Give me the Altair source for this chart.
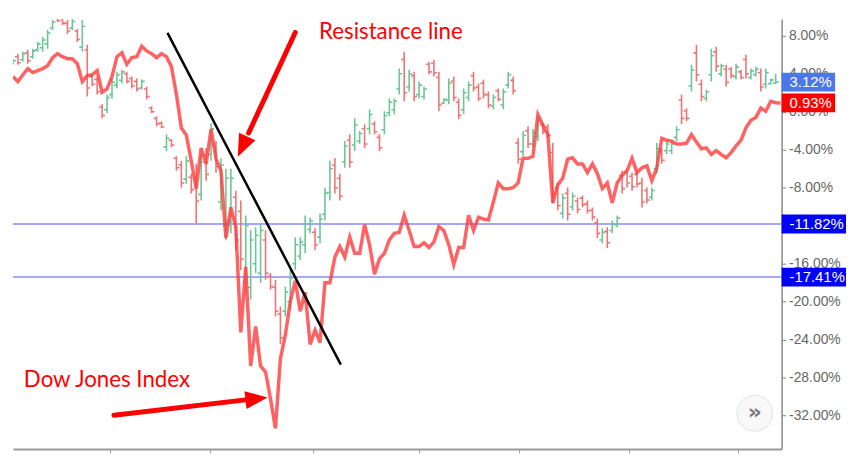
import altair as alt
import pandas as pd

# ---------------- data (percent change) ----------------
bar_high = [
    5.58, 6.10, 6.31, 6.52, 6.62, 7.35, 7.88, 8.61, 9.65, 10.28,
    10.07, 9.65, 9.75, 8.71, 9.65, 7.04, 3.91, 3.70, 0.78, 1.82,
    3.49, 4.22, 4.43, 4.22, 3.70, 3.49, 3.39, 2.66, 0.57, -0.48,
    -1.00, -2.36, -2.88, -4.65, -5.17, -4.65, -6.53, -5.49, -4.44, -3.82,
    -1.21, -3.09, -4.86, -6.01, -6.01, -8.31, -9.35, -10.92, -12.48, -12.17,
    -11.75, -12.48, -16.97, -17.70, -20.52, -18.43, -16.66, -13.21, -13.21, -10.92,
    -11.13, -12.27, -10.71, -7.99, -5.17, -4.86, -6.53, -3.09, -2.36, -0.68,
    -2.04, -1.31, 0.26, -1.00, -2.36, 0.05, 1.40, 1.40, 4.54, 6.31,
    4.43, 4.22, 3.18, 2.66, 5.27, 5.48, 4.22, 1.40, 3.49, 3.70,
    1.40, 2.45, 3.18, 4.22, 2.97, 3.39, 2.13, 1.82, 2.45, 2.45,
    4.22, 3.70, -2.77, -2.04, -1.52, -1.83, -0.48, -1.21, -1.31, -3.30,
    -7.47, -8.62, -7.99, -8.51, -9.04, -8.83, -9.35, -10.08, -11.23, -12.27,
    -12.17, -11.44, -10.92, -6.22, -6.01, -6.43, -6.22, -6.95, -7.99, -7.99,
    -3.30, -3.82, -3.09, -3.09, -1.52, 1.82, 0.36, 4.95, 7.04, 3.39,
    2.34, 6.62, 6.83, 5.06, 4.95, 4.74, 5.06, 4.43, 5.99, 4.54,
    4.74, 4.54, 4.54, 3.49, 4.01,
]
bar_low = [
    4.95, 4.95, 5.27, 5.06, 5.58, 6.31, 6.31, 6.62, 8.61, 9.44,
    9.13, 8.19, 8.61, 7.35, 6.31, 1.61, 2.66, 1.82, -0.68, -0.16,
    1.40, 2.45, 2.97, 2.97, 2.45, 2.13, 2.34, 1.30, -0.16, -1.52,
    -1.73, -4.13, -3.71, -6.22, -7.99, -7.57, -8.62, -11.75, -9.35, -7.26,
    -5.17, -6.43, -10.39, -13.53, -12.80, -14.57, -16.66, -19.06, -19.79, -16.97,
    -18.02, -17.70, -18.75, -21.56, -24.49, -21.56, -20.83, -16.66, -15.61, -14.88,
    -12.80, -14.57, -13.84, -11.44, -9.35, -8.62, -9.35, -5.90, -5.90, -4.13,
    -3.40, -3.82, -2.36, -2.36, -4.13, -2.36, -0.48, -0.27, 1.82, 1.09,
    2.13, 1.09, 1.40, 1.30, 3.91, 3.70, 0.05, 0.78, 0.78, 1.09,
    -0.79, -0.27, 1.09, 2.13, 1.09, 1.40, 0.36, 0.26, 1.09, 0.26,
    2.45, 1.82, -5.49, -4.65, -3.82, -3.82, -3.09, -2.36, -2.77, -9.66,
    -10.39, -11.23, -11.44, -10.39, -10.71, -10.08, -10.71, -11.44, -13.32, -13.84,
    -14.36, -12.80, -12.17, -8.62, -7.99, -8.31, -7.99, -10.08, -9.66, -9.35,
    -6.53, -5.49, -4.44, -4.44, -3.09, -1.31, -1.00, 2.13, 3.18, 1.09,
    1.09, 3.18, 4.22, 3.70, 2.66, 3.49, 3.39, 3.39, 3.49, 3.39,
    3.70, 2.13, 2.45, 2.87, 2.97,
]
bar_open = [
    5.16, 5.79, 5.48, 6.20, 5.79, 6.52, 6.73, 7.14, 8.81, 9.90,
    9.80, 9.30, 8.80, 8.50, 6.80, 6.50, 3.70, 3.40, 0.50, 0.20,
    1.80, 2.80, 3.30, 4.00, 3.50, 3.20, 2.50, 2.40, 0.40, -0.70,
    -1.20, -3.70, -3.00, -4.90, -5.60, -7.10, -6.90, -7.00, -8.70, -4.50,
    -4.50, -3.60, -9.50, -12.00, -11.50, -9.00, -10.50, -18.00, -18.50, -16.00,
    -17.00, -13.50, -17.30, -18.50, -21.30, -21.00, -20.00, -16.00, -15.20, -14.00,
    -12.40, -12.70, -13.20, -10.80, -8.50, -5.60, -7.00, -5.30, -3.00, -3.50,
    -3.10, -1.80, -1.80, -1.30, -2.70, -1.90, -0.10, 0.20, 2.40, 5.50,
    2.60, 3.80, 1.80, 1.60, 5.00, 5.10, 3.60, 0.90, 1.20, 3.20,
    1.00, 0.20, 1.50, 3.80, 2.60, 3.00, 1.80, 0.60, 2.20, 0.70,
    2.80, 3.30, -3.30, -4.20, -2.00, -3.40, -2.60, -1.40, -1.60, -4.30,
    -8.00, -10.70, -8.60, -10.00, -9.40, -9.10, -9.70, -10.40, -11.70, -13.50,
    -12.60, -12.50, -11.90, -6.70, -6.40, -6.80, -6.60, -7.50, -8.30, -9.00,
    -6.00, -4.20, -4.10, -4.10, -2.70, 1.20, 0.10, 2.70, 6.20, 2.90,
    1.40, 3.90, 6.30, 4.00, 4.50, 4.50, 3.70, 4.20, 5.50, 3.60,
    3.90, 4.10, 2.90, 2.95, 3.00,
]
bar_close = [
    5.37, 5.16, 6.10, 5.37, 6.41, 7.14, 7.56, 8.29, 9.44, 9.55,
    9.30, 8.50, 9.50, 7.60, 9.00, 2.50, 2.90, 2.10, -0.40, 1.50,
    3.10, 3.90, 4.20, 3.20, 2.70, 2.40, 3.20, 1.60, 0.00, -1.30,
    -1.60, -2.80, -3.50, -5.90, -7.50, -5.20, -8.20, -9.40, -5.30, -6.60,
    -1.80, -5.80, -5.60, -7.00, -7.00, -13.50, -15.50, -12.00, -13.50, -13.00,
    -12.50, -17.00, -18.40, -21.00, -23.80, -19.00, -17.50, -14.00, -13.70, -11.80,
    -11.50, -14.00, -11.30, -8.60, -6.00, -8.00, -8.90, -3.60, -5.30, -1.40,
    -2.30, -3.40, -0.30, -2.10, -3.80, -0.40, 1.00, 1.10, 4.00, 2.00,
    4.00, 1.60, 2.80, 2.40, 4.20, 4.10, 0.70, 1.30, 3.00, 1.50,
    -0.40, 2.00, 2.80, 2.50, 1.40, 1.80, 0.70, 1.50, 1.30, 2.10,
    3.90, 2.20, -5.00, -2.50, -3.40, -2.20, -0.90, -2.10, -2.50, -8.70,
    -9.90, -9.10, -10.80, -8.90, -10.30, -9.80, -10.40, -11.10, -12.80, -12.70,
    -13.80, -11.80, -11.20, -8.10, -7.50, -7.90, -7.60, -9.50, -9.30, -8.30,
    -3.90, -5.10, -3.40, -3.40, -1.90, -0.70, -0.70, 4.40, 3.90, 1.60,
    2.10, 5.90, 4.80, 4.80, 3.10, 3.80, 4.70, 3.60, 4.00, 4.30,
    4.50, 2.60, 4.10, 3.35, 3.12,
]
dow_pct = [
    3.71, 3.18, 3.90, 4.54, 4.12, 4.33, 4.54, 4.85, 5.69, 6.11,
    5.79, 5.58, 5.58, 5.06, 3.18, 3.81, 3.91, 4.33, 2.04, 2.40,
    3.71, 5.80, 6.20, 5.00, 5.70, 5.80, 6.90, 6.40, 6.11, 5.69,
    6.11, 5.79, 4.75, 1.83, -1.72, -2.45, -5.17, -8.10, -3.81, -5.50,
    -1.83, -4.96, -6.21, -13.30, -10.07, -12.16, -23.23, -16.34, -26.77, -22.60,
    -26.77, -27.40, -30.22, -33.35, -26.00, -23.50, -20.00, -17.80, -21.00, -19.00,
    -24.50, -23.00, -24.30, -18.00, -18.00, -15.30, -14.20, -15.30, -13.20, -14.90,
    -14.90, -11.90, -14.00, -17.10, -15.50, -14.90, -13.50, -12.80, -12.70, -10.90,
    -12.50, -14.20, -14.20, -13.80, -14.30, -13.70, -12.10, -12.50, -14.00, -16.10,
    -14.30, -14.30, -10.90, -12.50, -11.10, -11.30, -11.40, -9.50, -7.50, -8.10,
    -8.10, -8.00, -7.50, -4.90, -4.90, -4.70, -0.30, -1.40, -2.40, -9.60,
    -7.70, -7.00, -5.00, -4.85, -5.50, -5.50, -6.40, -5.50, -6.50, -8.10,
    -7.50, -9.60, -7.50, -6.70, -6.20, -4.90, -6.40, -5.90, -5.70, -7.25,
    -5.90, -2.80, -3.00, -3.10, -3.40, -3.40, -3.30, -2.40, -3.20, -3.90,
    -3.80, -4.50, -4.10, -4.50, -4.85, -4.30, -3.60, -3.00, -1.70, -0.90,
    -0.60, 0.40, 0.05, 1.10, 0.95, 0.93,
]
level_values = [-11.82, -17.41]
level_labels = ["-11.82%", "-17.41%"]
last_values = [3.12, 0.93]
last_labels = ["3.12%", "0.93%"]
last_colors = ["#4a78e6", "#ff0000"]
month_ticks = [19.6, 39.8, 60.6, 82.0, 102.2, 124.4, 146.4]
y_ticks = [8, 4, 0, -4, -8, -12, -16, -20, -24, -28, -32]

# annotation geometry (in data units: day index, percent)
resist_i = [31.2, 66.2]
resist_v = [8.30, -26.63]
shaft_arrow = [1, 1, 2, 2]
shaft_i = [57.0, 47.6, 20.4, 47.8]
shaft_v = [8.35, -2.23, -31.95, -30.28]
head_i = [45.4, 51.4]
head_v = [-4.73, -30.08]
head_angle = [205, 83]
note_text = ["Resistance line", "Dow Jones Index"]
note_i = [61.8, 2.2]
note_v = [7.68, -28.94]

GREEN = "#6cc596"
RED = "#f07474"
LINE_RED = "#ff3b3b"

# ---------------- scales / axes ----------------
xs = alt.Scale(domain=[0, 155.2], nice=False, zero=False)
ys = alt.Scale(domain=[-35.5, 9.76], nice=False, zero=False)
x_axis = alt.Axis(orient="bottom", values=month_ticks, labels=False, ticks=True,
                  tickSize=4, tickColor="#9a9a9a", domainColor="#9a9a9a",
                  domainWidth=2, grid=False, title=None)
y_axis = alt.Axis(orient="right", values=y_ticks,
                  labelExpr="(datum.value < 0 ? '-' : '') + format(abs(datum.value), '.2f') + '%'",
                  labelFont="Liberation Sans", labelFontSize=14, labelColor="#666666",
                  tickSize=4, tickColor="#888888", domainColor="#888888",
                  domainWidth=1.5, labelPadding=3, grid=False, title=None)


def X(f):
    return alt.X(f"{f}:Q", scale=xs, axis=x_axis)


def Y(f):
    return alt.Y(f"{f}:Q", scale=ys, axis=y_axis)


# ---------------- tables ----------------
bars_df = pd.DataFrame({"i": list(range(len(bar_high))), "high": bar_high, "low": bar_low,
                        "open": bar_open, "close": bar_close})
bars_df["dir"] = ["up" if c >= o else "down" for o, c in zip(bar_open, bar_close)]
dow_df = pd.DataFrame({"i": list(range(len(dow_pct))), "v": dow_pct})
lev_df = pd.DataFrame({"v": level_values, "label": level_labels})
last_df = pd.DataFrame({"v": last_values, "label": last_labels, "c": last_colors})
res_df = pd.DataFrame({"i": resist_i, "v": resist_v})
shaft_df = pd.DataFrame({"arrow": shaft_arrow, "i": shaft_i, "v": shaft_v, "k": list(range(4))})
head_df = pd.DataFrame({"i": head_i, "v": head_v, "ang": head_angle})
note_df = pd.DataFrame({"t": note_text, "i": note_i, "v": note_v})
one_df = pd.DataFrame({"k": [0]})

color = alt.Color("dir:N", scale=alt.Scale(domain=["up", "down"], range=[GREEN, RED]), legend=None)

# ---------------- layers ----------------
levels = alt.Chart(lev_df).mark_rule(color="#8a8aff", strokeWidth=1.5).encode(y=Y("v"))

bar_base = alt.Chart(bars_df)
hl = bar_base.mark_rule(strokeWidth=1.6, clip=True).encode(x=X("i"), y=Y("low"), y2="high", color=color)
op = bar_base.transform_calculate(il="datum.i - 0.6").mark_rule(strokeWidth=1.6, clip=True).encode(
    x=X("il"), x2="i", y=Y("open"), color=color)
cl = bar_base.transform_calculate(ir="datum.i + 0.6").mark_rule(strokeWidth=1.6, clip=True).encode(
    x=X("i"), x2="ir", y=Y("close"), color=color)

dow = alt.Chart(dow_df).mark_line(color=LINE_RED, strokeWidth=3.5, opacity=0.8, clip=True).encode(
    x=X("i"), y=Y("v"))

resist = alt.Chart(res_df).mark_line(color="black", strokeWidth=2.5).encode(x=X("i"), y=Y("v"))

shafts = alt.Chart(shaft_df).mark_line(color="#ff0000", strokeWidth=5, strokeCap="round").encode(
    x=X("i"), y=Y("v"), detail="arrow:N", order="k:Q")

heads = alt.Chart(head_df).mark_point(shape="M0,0L-0.65,1.6L0.65,1.6Z", filled=True, color="#ff0000",
                                      size=784, opacity=1, strokeWidth=0).encode(
    x=X("i"), y=Y("v"), angle=alt.Angle("ang:Q", scale=None))

notes = alt.Chart(note_df).mark_text(align="left", baseline="alphabetic", color="#ff0000",
                                     font="Lato", fontSize=22.5).encode(x=X("i"), y=Y("v"), text="t:N")

last_box = alt.Chart(last_df).transform_calculate(top="datum.v + 0.99", bot="datum.v - 0.99").mark_rect().encode(
    x=alt.value(776), x2=alt.value(830), y=Y("top"), y2="bot", color=alt.Color("c:N", scale=None))
lev_box = alt.Chart(lev_df).transform_calculate(top="datum.v + 0.99", bot="datum.v - 0.99").mark_rect(
    color="#0000ff").encode(x=alt.value(776), x2=alt.value(850), y=Y("top"), y2="bot")
box_text = alt.Chart(pd.concat([last_df[["v", "label"]], lev_df[["v", "label"]]])).mark_text(
    align="left", baseline="middle", color="white", font="Liberation Sans", fontSize=15).encode(
    x=alt.value(784), y=Y("v"), text="label:N")

btn = alt.Chart(one_df).mark_circle(size=1296, color="#f8f8f8", stroke="#e0e0e0", strokeWidth=1,
                                     opacity=1).encode(x=alt.value(749), y=alt.value(398))
btn_text = alt.Chart(one_df).mark_text(text="»", font="DejaVu Sans", fontSize=22, fontWeight="bold",
                                       color="#777777", baseline="middle", align="center").encode(
    x=alt.value(749), y=alt.value(397))

chart = alt.layer(
    levels, hl, op, cl, dow, resist, shafts, heads, notes,
    last_box, lev_box, box_text, btn, btn_text,
).properties(
    width=776, height=434,
    padding={"left": 5, "top": 9, "right": 65, "bottom": 3},
    autosize=alt.AutoSizeParams(type="none"),
).configure(background="white").configure_view(stroke=None)

chart.save("out.html", embed_options={"renderer": "svg", "actions": False})
